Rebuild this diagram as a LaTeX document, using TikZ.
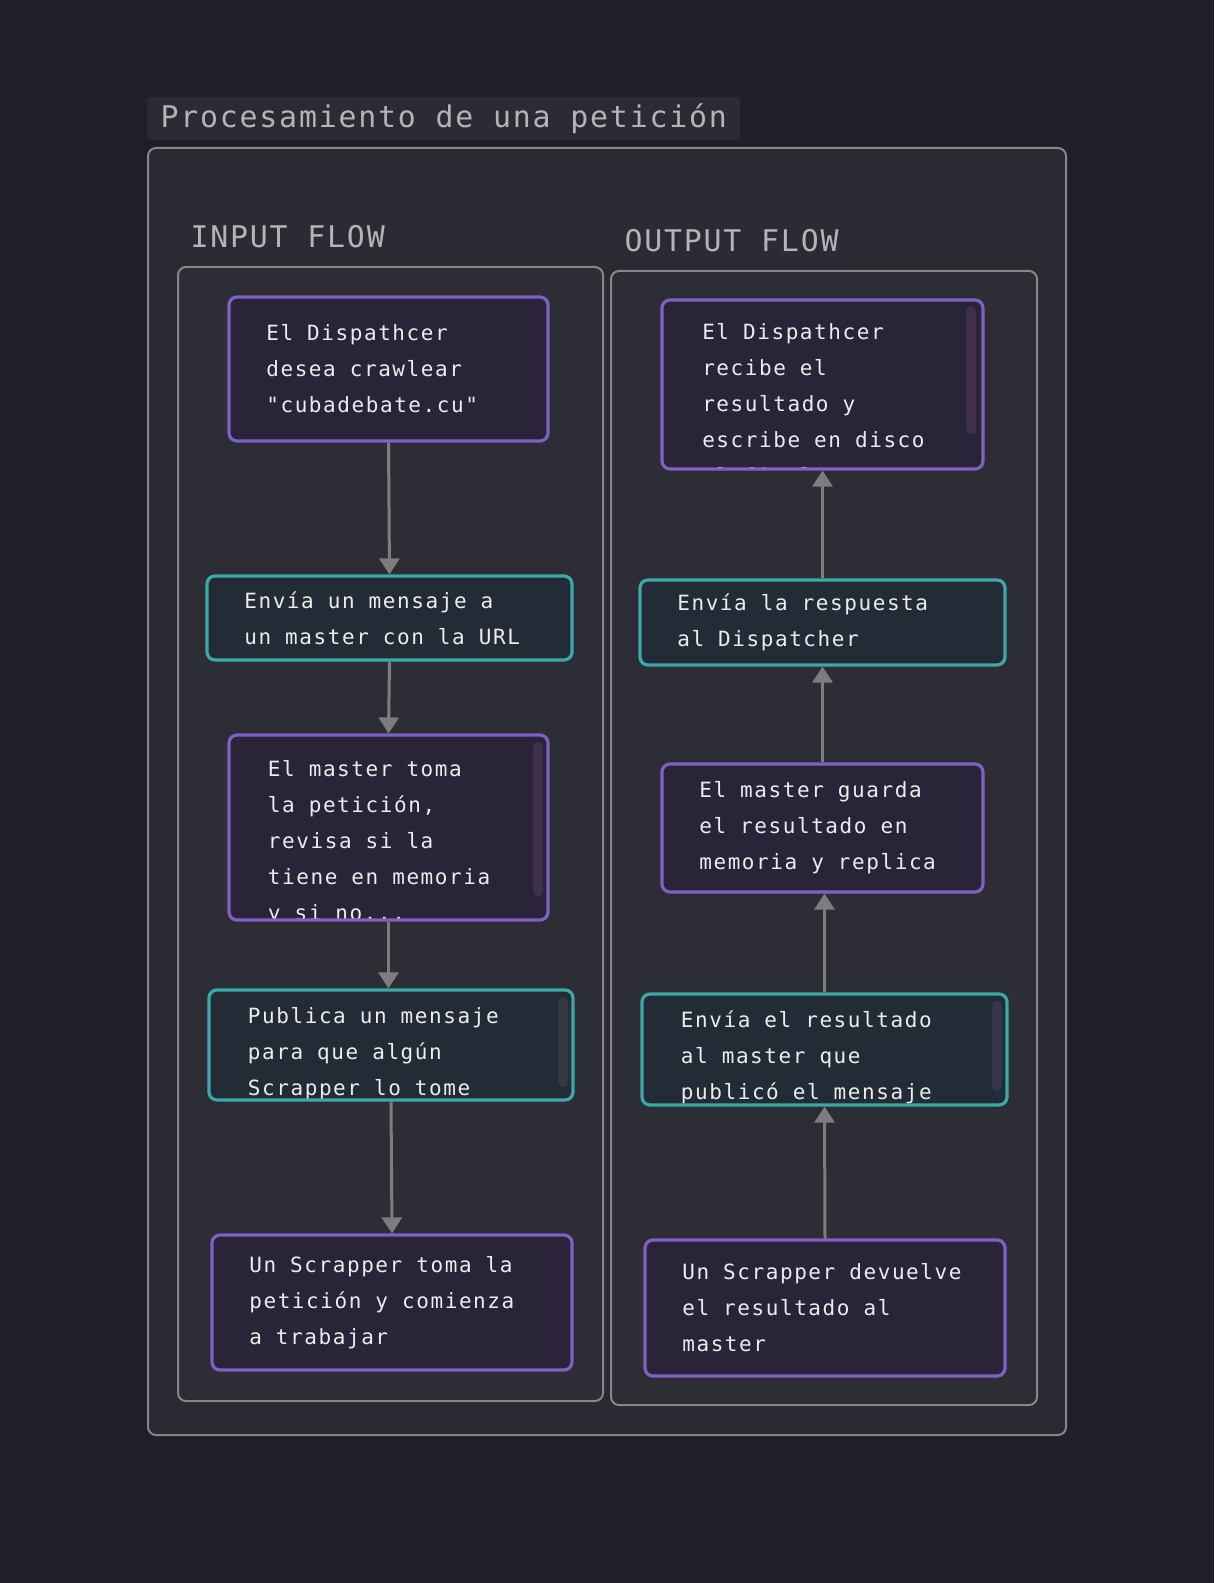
\documentclass[tikz,border=0pt]{standalone}
\usepackage{fontspec}
\usetikzlibrary{arrows.meta}
\newfontfamily\boxfont{DejaVu Sans Mono}[LetterSpace=7.5]
\newfontfamily\labelfont{DejaVu Sans Mono}[LetterSpace=6]
\definecolor{canvasBg}{RGB}{31,31,41}
\definecolor{outerFill}{RGB}{41,41,50}
\definecolor{laneFill}{RGB}{45,45,54}
\definecolor{labelFill}{RGB}{43,43,53}
\definecolor{frameGray}{RGB}{135,135,135}
\definecolor{labelGray}{RGB}{180,180,180}
\definecolor{boxPurple}{RGB}{128,96,196}
\definecolor{purpleFill}{RGB}{42,36,56}
\definecolor{purpleThumb}{RGB}{62,48,73}
\definecolor{boxTeal}{RGB}{59,169,168}
\definecolor{tealFill}{RGB}{35,44,54}
\definecolor{tealThumb}{RGB}{51,56,69}
\definecolor{arrowGray}{RGB}{125,125,125}
\definecolor{boxText}{RGB}{236,236,236}

\begin{document}
\begin{tikzpicture}[
    x=0.75pt,
    y=-0.75pt,
    outer frame/.style={
        draw=frameGray,
        fill=outerFill,
        line width=1.5pt,
        rounded corners=6pt
    },
    lane frame/.style={
        draw=frameGray,
        fill=laneFill,
        line width=1.5pt,
        rounded corners=6pt
    },
    frame label/.style={
        fill=labelFill,
        rounded corners=3pt,
        anchor=west,
        minimum height=32.25pt,
        inner xsep=10pt,
        text=labelGray,
        font=\labelfont\fontsize{22.4}{26}\selectfont
    },
    purple box/.style={
        draw=boxPurple,
        fill=purpleFill,
        line width=2.4pt,
        rounded corners=6pt,
        text=boxText,
        font=\boxfont\fontsize{15.75}{27}\selectfont,
        align=flush left,
        inner xsep=28pt,
        inner ysep=0pt,
        execute at begin node={\spaceskip=10.5pt\xspaceskip=10.5pt\relax}
    },
    teal box/.style={
        purple box,
        draw=boxTeal,
        fill=tealFill
    },
    box text/.style={
        draw=none,
        fill=none,
        rounded corners=0pt,
        minimum width=0pt,
        minimum height=0pt,
        inner sep=0pt,
        text width=220pt,
        align=flush left,
        text=boxText,
        font=\boxfont\fontsize{15.75}{27}\selectfont,
        anchor=base west
    },
    flow arrow/.style={
        arrowGray,
        line width=2.25pt,
        -{Triangle[length=12pt,width=15pt]}
    }
]

\fill[canvasBg] (0,0) rectangle (1214,1583);
\useasboundingbox (0,0) rectangle (1214,1583);

%------------------------------------------------
% Frames and their labels
%------------------------------------------------
\draw[outer frame] (148,148) rectangle (1066,1435);
\node[frame label] (title) at (147,118.5) {Procesamiento de una petición};

\draw[lane frame] (178,267) rectangle (603,1401);
\node[frame label] (inputlabel) at (177,236.5) {INPUT FLOW};

\draw[lane frame] (611,271) rectangle (1037,1405);
\node[frame label] (outputlabel) at (611,241) {OUTPUT FLOW};

%------------------------------------------------
% Input flow
%------------------------------------------------
\node[purple box, minimum width=239.25pt, minimum height=108pt,
    text width=183.25pt] (dispatchin) at (388.5,369)
    {El Dispathcer\\desea crawlear\\"cubadebate.cu"};

\node[teal box, minimum width=273.75pt, minimum height=63pt,
    text width=217.75pt] (msgmaster) at (389.5,618)
    {Envía un mensaje a\\un master con la URL};

\node[purple box, minimum width=239.25pt, minimum height=138.75pt,
    path picture={
        \node[box text] (mastertaketext)
            at ([xshift=28pt,yshift=-30.8pt]path picture bounding box.north west)
            {El master toma\\la petición,\\revisa si la\\tiene en memoria\\y si no...};
        \fill[purpleThumb, rounded corners=3.5pt]
            ([xshift=-11.25pt,yshift=-5.25pt]path picture bounding box.north east)
            rectangle ([xshift=-3.75pt,yshift=18pt]path picture bounding box.south east);
    }] (mastertake) at (388.5,827.5) {};

\node[teal box, minimum width=273pt, minimum height=82.5pt,
    path picture={
        \node[box text] (publishtext)
            at ([xshift=28pt,yshift=-25.2pt]path picture bounding box.north west)
            {Publica un mensaje\\para que algún\\Scrapper lo tome};
        \fill[tealThumb, rounded corners=3.5pt]
            ([xshift=-11.25pt,yshift=-5.25pt]path picture bounding box.north east)
            rectangle ([xshift=-3.75pt,yshift=9.75pt]path picture bounding box.south east);
    }] (publish) at (391,1045) {};

\node[purple box, minimum width=270pt, minimum height=101.25pt,
    text width=214pt] (scrappertake) at (392,1302.5)
    {Un Scrapper toma la\\petición y comienza\\a trabajar};

\draw[flow arrow] (dispatchin.south) -- (msgmaster.north);
\draw[flow arrow] (msgmaster.south) -- (mastertake.north);
\draw[flow arrow] (mastertake.south) -- (mastertake.south |- publish.north);
\draw[flow arrow] (publish.south) -- (scrappertake.north);

%------------------------------------------------
% Output flow (bottom to top)
%------------------------------------------------
\node[purple box, minimum width=240.75pt, minimum height=126.75pt,
    path picture={
        \node[box text] (dispatchouttext)
            at ([xshift=29pt,yshift=-29.8pt]path picture bounding box.north west)
            {El Dispathcer\\recibe el\\resultado y\\escribe en disco\\al final};
        \fill[purpleThumb, rounded corners=3.5pt]
            ([xshift=-12.75pt,yshift=-4.5pt]path picture bounding box.north east)
            rectangle ([xshift=-5.25pt,yshift=26.25pt]path picture bounding box.south east);
    }] (dispatchout) at (822.5,384.5) {};

\node[teal box, minimum width=273.75pt, minimum height=63.75pt,
    text width=217.75pt] (sendreply) at (822.5,622.5)
    {Envía la respuesta\\al Dispatcher};

\node[purple box, minimum width=240.75pt, minimum height=96pt,
    text width=184.75pt] (masterstore) at (822.5,828)
    {El master guarda\\el resultado en\\memoria y replica};

\node[teal box, minimum width=273.75pt, minimum height=83.25pt,
    path picture={
        \node[box text] (sendresulttext)
            at ([xshift=28pt,yshift=-25.2pt]path picture bounding box.north west)
            {Envía el resultado\\al master que\\publicó el mensaje};
        \fill[tealThumb, rounded corners=3.5pt]
            ([xshift=-11.25pt,yshift=-5.25pt]path picture bounding box.north east)
            rectangle ([xshift=-3.75pt,yshift=10.5pt]path picture bounding box.south east);
    }] (sendresult) at (824.5,1049.5) {};

\node[purple box, minimum width=270pt, minimum height=102pt,
    text width=214pt] (scrapperret) at (825,1308)
    {Un Scrapper devuelve\\el resultado al\\master};

\draw[flow arrow] (scrapperret.north) -- (sendresult.south);
\draw[flow arrow] (sendresult.north) -- (sendresult.north |- masterstore.south);
\draw[flow arrow] (masterstore.north) -- (sendreply.south);
\draw[flow arrow] (sendreply.north) -- (dispatchout.south);

\end{tikzpicture}
\end{document}
